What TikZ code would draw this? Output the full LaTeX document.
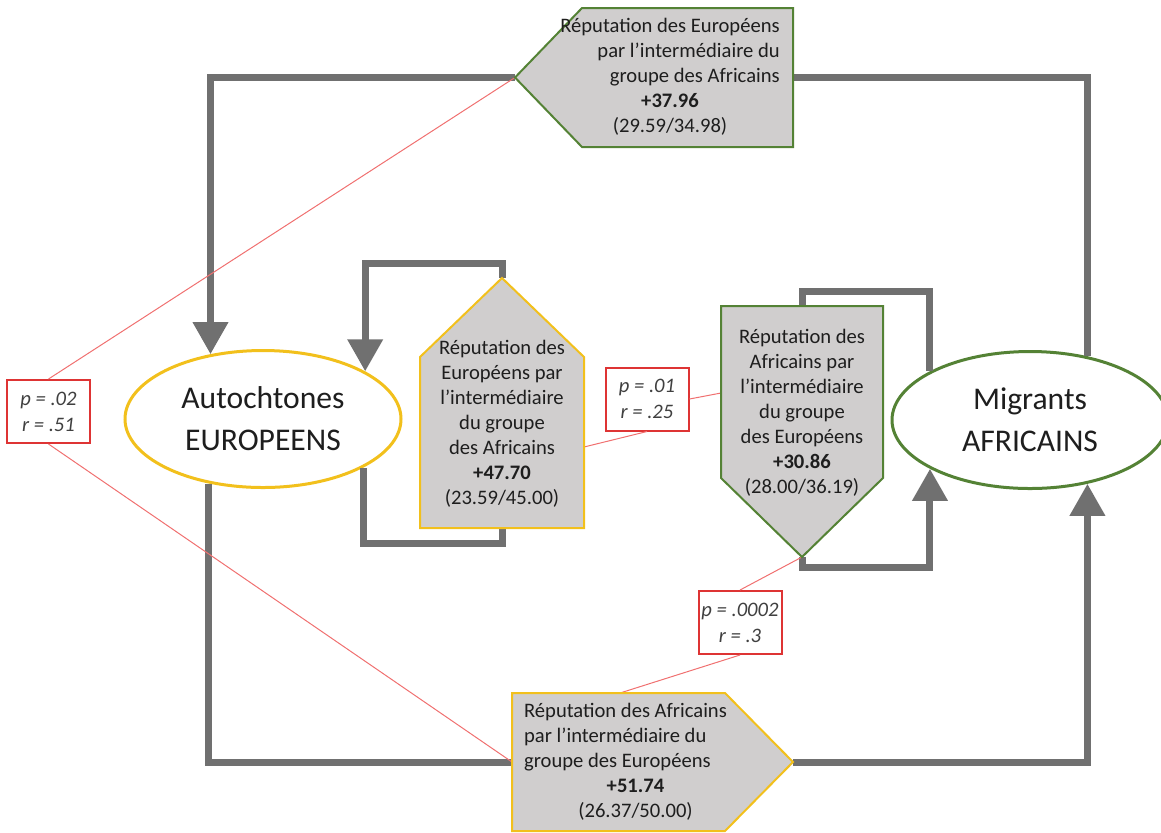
\documentclass[tikz,border=0pt]{standalone}
\usepackage{fontspec}
\setmainfont{Carlito}
\usetikzlibrary{arrows.meta,shapes.geometric}
\definecolor{jaune}{RGB}{242,192,28}
\definecolor{vert}{RGB}{84,130,53}
\definecolor{gris}{RGB}{112,112,112}
\definecolor{fond}{RGB}{208,206,206}
\definecolor{rouge}{RGB}{222,52,52}
\definecolor{rose}{RGB}{240,112,112}
\definecolor{encre}{RGB}{30,30,30}
\tikzset{
  groupe/.style={ellipse, draw, line width=1.5pt, fill=white, inner sep=0pt,
    minimum width=138pt, minimum height=68.5pt, align=center,
    font=\fontsize{15.8}{21}\selectfont, text=encre},
  fleche/.style={draw=gris, line width=3.5pt},
  pointe/.style={-{Triangle[length=16pt,width=17pt]}},
  carte/.style={fill=fond, line width=1pt, line join=miter},
  texte/.style={inner sep=0pt, align=center, font=\fontsize{10.3}{12.5}\selectfont, text=encre},
  stat/.style={draw=rouge, line width=1pt, fill=white, minimum width=41.5pt,
    minimum height=31.5pt, inner sep=0pt, align=center,
    font=\fontsize{10.3}{13}\selectfont\itshape, text=encre!85},
  lien/.style={draw=rose, line width=0.5pt}
}
\begin{document}
\begin{tikzpicture}[x=0.5pt,y=0.5pt,yscale=-1,xscale=1]
\useasboundingbox (0,0) rectangle (1161,832);

%Shape: Ellipse
\node[groupe, draw=jaune] (eur) at (263,419) {Autochtones\\EUROPEENS};
%Shape: Ellipse
\node[groupe, draw=vert] (afr) at (1030,420) {Migrants\\AFRICAINS};

%Shape: Rectangle
\node[stat] (rA) at (48.5,411.5) {p = .02\\r = .51};
\node[stat] (rB) at (647,399) {p = .01\\r = .25};
\node[stat] (rC) at (740,622.5) {p = .0002\\r = .3};

% points of the cards
\coordinate (tE) at (515,77.5);
\coordinate (bE) at (793,77.5);
\coordinate (bL) at (512,762);
\coordinate (bR) at (793,762);
\coordinate (cB) at (620,693);
\coordinate (aL) at (502,278);
\coordinate (mL) at (502,528);
\coordinate (cL) at (584,447);
\coordinate (mR) at (802,306);
\coordinate (tR) at (802,557);
\coordinate (cR) at (721,393);

%Straight Lines
\draw[fleche,pointe] (tE) -| (eur.129.75);
\draw[fleche] (bE) -| (afr.48);
\draw[fleche] (eur.230.25) |- (bL);
\draw[fleche,pointe] (bR) -| (afr.312);
\draw[fleche,pointe] (aL) -- ++(0,-15) -| (eur.25.9);
\draw[fleche] (mL) -- ++(0,15) -| (eur.334.1);
\draw[fleche] (mR) -- ++(0,-15) -| (afr.154);
\draw[fleche,pointe] (tR) -- ++(0,10) -| (afr.206);

%Straight Lines
\draw[lien] (rA.north) -- (tE);
\draw[lien] (rA.south) -- (bL);
\draw[lien] (rB.east) -- (cR);
\draw[lien] (rB.south) -- (cL);
\draw[lien] (rC.north) -- (tR);
\draw[lien] (rC.south) -- (cB);

%Shape: Pentagon
\filldraw[carte, draw=vert] (tE) -- (582,8) -- (793,8) -- (793,147) -- (582,147) -- cycle;
\filldraw[carte, draw=jaune] (bL) -- (512,693) -- (725,693) -- (bR) -- (725,831) -- (512,831) -- cycle;
\filldraw[carte, draw=jaune] (aL) -- (584,357) -- (584,528) -- (420,528) -- (420,357) -- cycle;
\filldraw[carte, draw=vert] (tR) -- (721,478) -- (721,306) -- (883,306) -- (883,478) -- cycle;

% Text Node
\node[texte] (txtE) at (670,77.5) {\begin{tabular}{@{}r@{}}Réputation des Européens\\par l’intermédiaire du\\groupe des Africains\\
  \multicolumn{1}{@{}c@{}}{\textbf{+37.96}}\\\multicolumn{1}{@{}c@{}}{(29.59/34.98)}\end{tabular}};
% Text Node
\node[texte] (txtB) at (625.5,762) {\begin{tabular}{@{}l@{}}Réputation des Africains\\par l’intermédiaire du\\groupe des Européens\\
  \multicolumn{1}{@{}c@{}}{\hspace*{10pt}\textbf{+51.74}}\\\multicolumn{1}{@{}c@{}}{\hspace*{10pt}(26.37/50.00)}\end{tabular}};
% Text Node
\node[texte] (txtL) at (502,424) {Réputation des\\Européens par\\l’intermédiaire\\du groupe\\des Africains\\\textbf{+47.70}\\(23.59/45.00)};
% Text Node
\node[texte] (txtR) at (802,413) {Réputation des\\Africains par\\l’intermédiaire\\du groupe\\des Européens\\\textbf{+30.86}\\(28.00/36.19)};

\end{tikzpicture}
\end{document}
